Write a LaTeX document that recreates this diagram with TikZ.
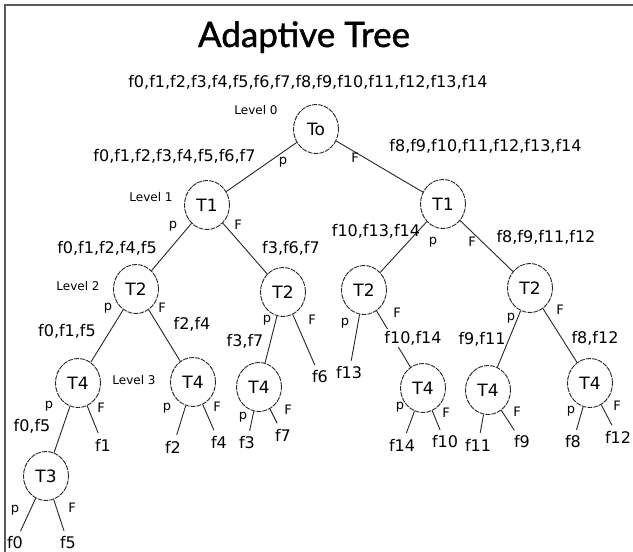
\documentclass[tikz,border=0pt]{standalone}
\usepackage{fontspec}
\setmainfont{DejaVu Sans}
\newfontfamily\titlefont[FakeBold=1.2]{Lato}
\usetikzlibrary{shapes.geometric}
\begin{document}
\begin{tikzpicture}[x=1pt,y=-1pt,
  tnode/.style={ellipse, draw=black!85, line width=0.9pt, dash pattern=on 5pt off 1pt,
    minimum width=45pt, minimum height=49pt, inner sep=0pt,
    font=\fontsize{17}{17}\selectfont},
  setlbl/.style={font=\fontsize{16}{16}\selectfont, inner sep=1pt},
  leaf/.style={font=\fontsize{16}{16}\selectfont, inner sep=1pt},
  small/.style={font=\fontsize{12}{12}\selectfont, inner sep=0pt},
  branch/.style={font=\fontsize{13}{13}\selectfont, inner sep=0pt},
  conn/.style={draw=black!85, line width=0.9pt},
  lconn/.style={conn, shorten >=5pt}
]
\useasboundingbox (0,0) rectangle (633,552);
\fill[white] (0,0) rectangle (633,552);
\draw[line width=2pt, black!65] (5,552) -- (5,5) -- (633,5);

% title and root set
\node[font=\titlefont\fontsize{35}{35}\selectfont, anchor=base] (title) at (304,47) {Adaptive Tree};
\node[setlbl] (s0) at (308,82) {f0,f1,f2,f3,f4,f5,f6,f7,f8,f9,f10,f11,f12,f13,f14};

% level labels
\node[small] (lv0) at (256,110) {Level 0};
\node[small] (lv1) at (151,197) {Level 1};
\node[small] (lv2) at (78,286) {Level 2};
\node[small] (lv3) at (134,380) {Level 3};

% tree nodes
\node[tnode] (T0) at (316,129) {To};
\node[tnode] (T1a) at (207,205) {T1};
\node[tnode] (T1b) at (443,204) {T1};
\node[tnode] (T2a) at (136,289) {T2};
\node[tnode] (T2b) at (283,292) {T2};
\node[tnode] (T2c) at (364,290) {T2};
\node[tnode] (T2d) at (530,288) {T2};
\node[tnode] (T4a) at (78,383) {T4};
\node[tnode] (T4b) at (193,382) {T4};
\node[tnode] (T4c) at (259,387) {T4};
\node[tnode] (T4d) at (423,388) {T4};
\node[tnode] (T4e) at (488,390) {T4};
\node[tnode] (T4f) at (590,383) {T4};
\node[tnode] (T3) at (46,476) {T3};

% leaves
\node[leaf] (f6) at (320,377) {f6};
\node[leaf] (f13) at (349,373) {f13};
\node[leaf] (f1) at (103,445) {f1};
\node[leaf] (f2) at (173,447) {f2};
\node[leaf] (f4) at (219,442) {f4};
\node[leaf] (f3) at (247,443) {f3};
\node[leaf] (f7) at (283,435) {f7};
\node[leaf] (f14) at (402,445) {f14};
\node[leaf] (f10) at (445,442) {f10};
\node[leaf] (f11) at (478,445) {f11};
\node[leaf] (f9) at (522,442) {f9};
\node[leaf] (f8) at (573,442) {f8};
\node[leaf] (f12) at (618,437) {f12};
\node[leaf] (f0) at (15,543) {f0};
\node[leaf] (f5) at (68,543) {f5};

% connectors
\draw[conn] (T0) -- (T1a);
\draw[conn] (T0) -- (T1b);
\draw[conn] (T1a) -- (T2a);
\draw[conn] (T1a) -- (T2b);
\draw[conn] (T1b) -- (T2c);
\draw[conn] (T1b) -- (T2d);
\draw[conn] (T2a) -- (T4a);
\draw[conn] (T2a) -- (T4b);
\draw[conn] (T2b) -- (T4c);
\draw[lconn] (T2b) -- (f6);
\draw[lconn] (T2c) -- (f13);
\draw[conn] (T2c) -- (T4d);
\draw[conn] (T2d) -- (T4e);
\draw[conn] (T2d) -- (T4f);
\draw[conn] (T4a) -- (T3);
\draw[lconn] (T4a) -- (f1);
\draw[lconn] (T4b) -- (f2);
\draw[lconn] (T4b) -- (f4);
\draw[lconn] (T4c) -- (f3);
\draw[lconn] (T4c) -- (f7);
\draw[lconn] (T4d) -- (f14);
\draw[lconn] (T4d) -- (f10);
\draw[lconn] (T4e) -- (f11);
\draw[lconn] (T4e) -- (f9);
\draw[lconn] (T4f) -- (f8);
\draw[lconn] (T4f) -- (f12);
\draw[lconn] (T3) -- (f0);
\draw[lconn] (T3) -- (f5);

% set labels
\node[setlbl] (sL1) at (174.5,156) {f0,f1,f2,f3,f4,f5,f6,f7};
\node[setlbl] (sR1) at (485.5,146) {f8,f9,f10,f11,f12,f13,f14};
\node[setlbl] (sL2) at (107,248) {f0,f1,f2,f4,f5};
\node[setlbl] (sM2) at (291,248) {f3,f6,f7};
\node[setlbl] (sC2) at (376,231) {f10,f13,f14};
\node[setlbl] (sD2) at (546,237) {f8,f9,f11,f12};
\node[setlbl] (sa3) at (67,331) {f0,f1,f5};
\node[setlbl] (sb3) at (192,324) {f2,f4};
\node[setlbl] (sc3) at (245,341) {f3,f7};
\node[setlbl, fill=white, inner sep=2pt] (sd3) at (413,338) {f10,f14};
\node[setlbl] (se3) at (482,339) {f9,f11};
\node[setlbl] (sf3) at (595,338) {f8,f12};
\node[setlbl] (sg4) at (32,426) {f0,f5};

% branch letters
\node[branch] (p0) at (283,162) {p};
\node[branch] (F0) at (355,158) {F};
\node[branch] (p1a) at (173,226) {p};
\node[branch] (F1a) at (238,225) {F};
\node[branch] (p1b) at (433,242) {p};
\node[branch] (F1b) at (472,242) {F};
\node[branch] (p2a) at (108,308) {p};
\node[branch] (F2a) at (162,308) {F};
\node[branch] (p2b) at (267,320) {p};
\node[branch] (F2b) at (312,320) {F};
\node[branch] (p2c) at (345,323) {p};
\node[branch] (F2c) at (397,313) {F};
\node[branch] (p2d) at (511,318) {p};
\node[branch] (F2d) at (560,310) {F};
\node[branch] (p4a) at (49,406) {p};
\node[branch] (F4a) at (101,408) {F};
\node[branch] (p4b) at (167,408) {p};
\node[branch] (F4b) at (217,407) {F};
\node[branch] (p4c) at (243,417) {p};
\node[branch] (F4c) at (288,410) {F};
\node[branch] (p4d) at (400,407) {p};
\node[branch] (F4d) at (446,413) {F};
\node[branch] (F4e) at (517,412) {F};
\node[branch] (p4f) at (571,411) {p};
\node[branch] (F4f) at (617,406) {F};
\node[branch] (p3) at (15,510) {p};
\node[branch] (F3) at (72,508) {F};
\end{tikzpicture}
\end{document}
